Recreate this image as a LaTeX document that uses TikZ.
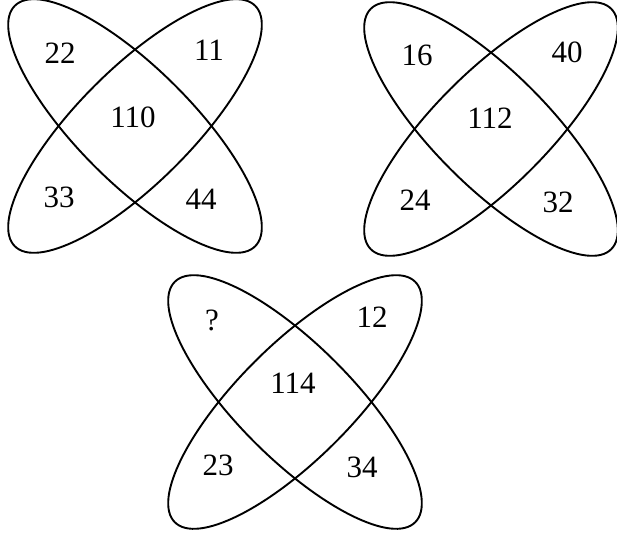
\documentclass[tikz,border=0pt]{standalone}
\usepackage{fontspec}
\setmainfont{Liberation Serif}
\begin{document}
\begin{tikzpicture}[x=1pt,y=-1pt,
  petal/.style={draw=black,line width=1.9pt},
  num/.style={inner sep=0pt,font=\fontsize{31}{36}\selectfont}]
\useasboundingbox (0,0) rectangle (617,536);
% figure 1
\begin{scope}[shift={(135,126)}]
  \draw[petal,rotate=45] (0,0) ellipse (170 and 57);
  \draw[petal,rotate=-45] (0,0) ellipse (170 and 57);
  \node[num] (a1) at (-75,-73) {22};
  \node[num] (a2) at (74,-76) {11};
  \node[num] (a0) at (-2,-9) {110};
  \node[num] (a3) at (-76,71) {33};
  \node[num] (a4) at (66,73) {44};
\end{scope}
% figure 2
\begin{scope}[shift={(491,129)}]
  \draw[petal,rotate=45] (0,0) ellipse (170 and 57);
  \draw[petal,rotate=-45] (0,0) ellipse (170 and 57);
  \node[num] (b1) at (-74,-74) {16};
  \node[num] (b2) at (76,-77) {40};
  \node[num] (b0) at (-1,-11) {112};
  \node[num] (b3) at (-76,71) {24};
  \node[num] (b4) at (67,73) {32};
\end{scope}
% figure 3
\begin{scope}[shift={(295,402)}]
  \draw[petal,rotate=45] (0,0) ellipse (170 and 57);
  \draw[petal,rotate=-45] (0,0) ellipse (170 and 57);
  \node[num] (c1) at (-83,-82) {?};
  \node[num] (c2) at (77,-85) {12};
  \node[num] (c0) at (-2,-19) {114};
  \node[num] (c3) at (-77,63) {23};
  \node[num] (c4) at (67,65) {34};
\end{scope}
\end{tikzpicture}
\end{document}
